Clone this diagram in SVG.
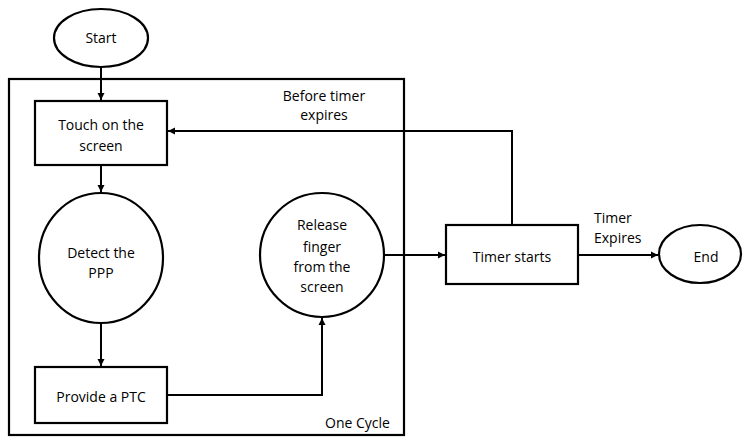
<svg xmlns="http://www.w3.org/2000/svg" width="745" height="437" viewBox="0 0 745 437">
<defs>
<marker id="ah" markerWidth="8" markerHeight="8" refX="7" refY="4" orient="auto" markerUnits="userSpaceOnUse">
<path d="M0,0.5 L7,4 L0,7.5 Z" fill="#000"/>
</marker>
<style>
.n{fill:#fff;stroke:#000;stroke-width:2.2}
.c{fill:none;stroke:#000;stroke-width:2}
text{font-family:"Open Sans","Liberation Sans",sans-serif;font-size:14px;fill:#000}
.m{text-anchor:middle}
</style>
</defs>
<rect id="cycle" x="9" y="79" width="395" height="356" fill="none" stroke="#000" stroke-width="2.2"/>
<g id="connectors">
<path class="c" d="M101,67 V100" marker-end="url(#ah)"/>
<path class="c" d="M101,165 V192" marker-end="url(#ah)"/>
<path class="c" d="M101,323 V366" marker-end="url(#ah)"/>
<path class="c" d="M167,395 H322 V318" marker-end="url(#ah)"/>
<path class="c" d="M384,255 H445" marker-end="url(#ah)"/>
<path class="c" d="M578,255 H658" marker-end="url(#ah)"/>
<path class="c" d="M512,225 V131 H168" marker-end="url(#ah)"/>
</g>
<g id="start"><ellipse class="n" cx="101" cy="38" rx="47" ry="29"/><text class="m" x="101" y="43">Start</text></g>
<g id="touch"><rect class="n" x="35" y="101" width="132" height="64"/><text class="m" x="101" y="130">Touch on the</text><text class="m" x="101" y="151">screen</text></g>
<g id="detect"><ellipse class="n" cx="101" cy="258" rx="62" ry="65"/><text class="m" x="101" y="258">Detect the</text><text class="m" x="101" y="278">PPP</text></g>
<g id="provide"><rect class="n" x="35" y="367" width="132" height="56"/><text class="m" x="101" y="402">Provide a PTC</text></g>
<g id="release"><ellipse class="n" cx="322" cy="255" rx="62" ry="62"/><text class="m" x="322" y="230">Release</text><text class="m" x="322" y="252">finger</text><text class="m" x="322" y="272">from the</text><text class="m" x="322" y="292">screen</text></g>
<g id="timer"><rect class="n" x="446" y="225" width="132" height="59"/><text class="m" x="512" y="262">Timer starts</text></g>
<g id="end"><ellipse class="n" cx="700" cy="254" rx="41" ry="29"/><text class="m" x="706" y="262">End</text></g>
<g id="labels">
<text class="m" x="324" y="101">Before timer</text>
<text class="m" x="324" y="120">expires</text>
<text x="594" y="223">Timer</text>
<text x="594" y="243">Expires</text>
<text x="325" y="428">One Cycle</text>
</g>
</svg>
